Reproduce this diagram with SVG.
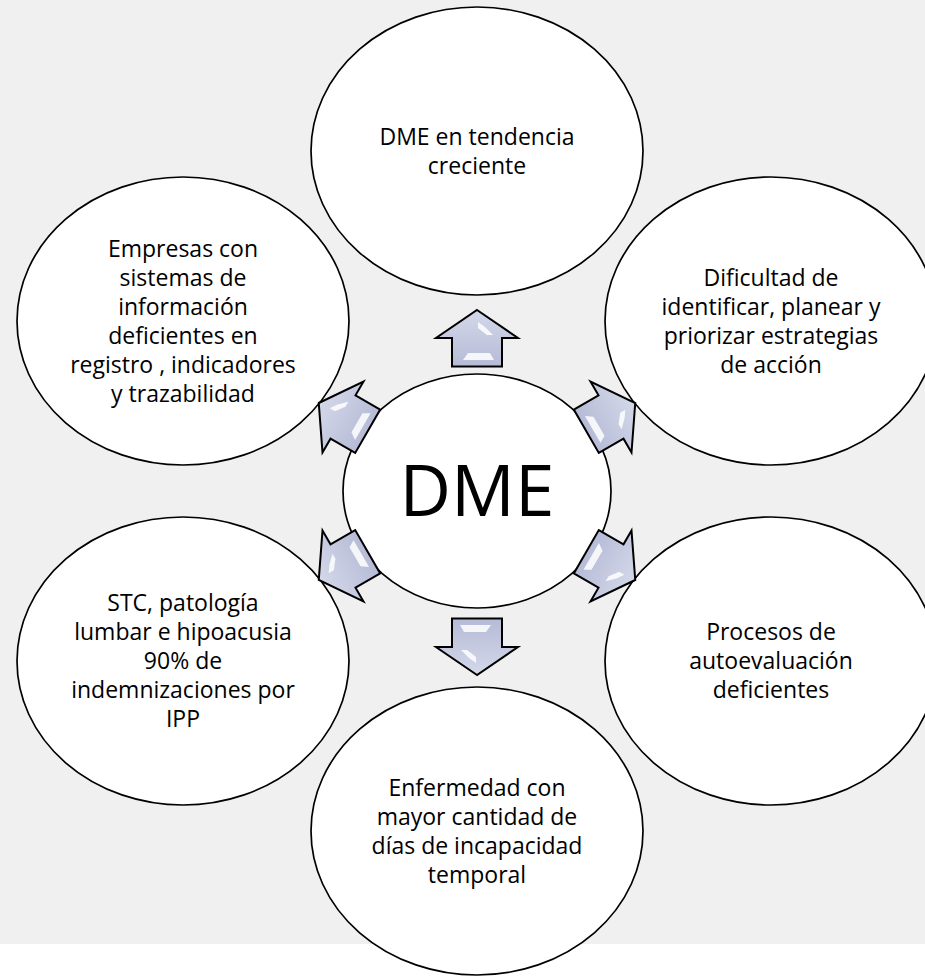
<svg xmlns="http://www.w3.org/2000/svg" width="925" height="980" viewBox="0 0 925 980">
<defs>
<style>
.node ellipse{fill:#ffffff;stroke:#000000;stroke-width:1.7}
.t{font-family:"Open Sans","Noto Sans","Liberation Sans",sans-serif;font-size:23px;fill:#000000;text-anchor:middle}
.big{font-family:"Open Sans","Noto Sans","Liberation Sans",sans-serif;font-size:71px;fill:#000000;text-anchor:middle}
.arr{fill:url(#ag);stroke:#000000;stroke-width:2;stroke-linejoin:miter}
.hl{fill:#ffffff;opacity:0.85}
</style>
<linearGradient id="ag" gradientUnits="userSpaceOnUse" x1="0" y1="-28" x2="0" y2="28">
<stop offset="0" stop-color="#d4d8e9"/>
<stop offset="1" stop-color="#b6bcd7"/>
</linearGradient>
<g id="arrow">
<path class="arr" d="M0,-28 L41,0 L25,0 L25,28.5 L-25,28.5 L-25,0 L-41,0 Z"/>
<path class="hl" d="M-14,22 L17,22 L13,15 L-9,15 Z"/>
<path class="hl" d="M1,-16 L8,-11 L16,-3 L10,-3 L1,-10 Z"/>
</g>
</defs>
<rect x="0" y="0" width="925" height="944" fill="#f0f0f0"/>
<g id="node-top" class="node">
<ellipse cx="477" cy="151" rx="166" ry="144"/>
<text class="t" x="477" y="145">DME en tendencia</text>
<text class="t" x="477" y="174">creciente</text>
</g>
<g id="node-right-upper" class="node">
<ellipse cx="771" cy="321" rx="166" ry="144"/>
<text class="t" x="771" y="286">Dificultad de</text>
<text class="t" x="771" y="315">identificar, planear y</text>
<text class="t" x="771" y="344">priorizar estrategias</text>
<text class="t" x="771" y="373">de acción</text>
</g>
<g id="node-right-lower" class="node">
<ellipse cx="771" cy="661" rx="166" ry="144"/>
<text class="t" x="771" y="640">Procesos de</text>
<text class="t" x="771" y="669">autoevaluación</text>
<text class="t" x="771" y="698">deficientes</text>
</g>
<g id="node-bottom" class="node">
<ellipse cx="477" cy="831" rx="166" ry="144"/>
<text class="t" x="477" y="796">Enfermedad con</text>
<text class="t" x="477" y="825">mayor cantidad de</text>
<text class="t" x="477" y="854">días de incapacidad</text>
<text class="t" x="477" y="883">temporal</text>
</g>
<g id="node-left-lower" class="node">
<ellipse cx="183" cy="661" rx="166" ry="144"/>
<text class="t" x="183" y="611">STC, patología</text>
<text class="t" x="183" y="640">lumbar e hipoacusia</text>
<text class="t" x="183" y="669">90% de</text>
<text class="t" x="183" y="698">indemnizaciones por</text>
<text class="t" x="183" y="727">IPP</text>
</g>
<g id="node-left-upper" class="node">
<ellipse cx="183" cy="321" rx="166" ry="144"/>
<text class="t" x="183" y="257">Empresas con</text>
<text class="t" x="183" y="286">sistemas de</text>
<text class="t" x="183" y="315">información</text>
<text class="t" x="183" y="344">deficientes en</text>
<text class="t" x="183" y="373">registro , indicadores</text>
<text class="t" x="183" y="402">y trazabilidad</text>
</g>
<g id="node-center" class="node">
<ellipse cx="477" cy="491" rx="134" ry="117"/>
<text class="big" x="477" y="516">DME</text>
</g>
<g id="connectors">
<use href="#arrow" transform="translate(477,338)"/>
<use href="#arrow" transform="translate(611,417) rotate(60)"/>
<use href="#arrow" transform="translate(611,566) rotate(120)"/>
<use href="#arrow" transform="translate(477,647) rotate(180)"/>
<use href="#arrow" transform="translate(343,566) rotate(240)"/>
<use href="#arrow" transform="translate(343,417) rotate(300)"/>
</g>
</svg>
